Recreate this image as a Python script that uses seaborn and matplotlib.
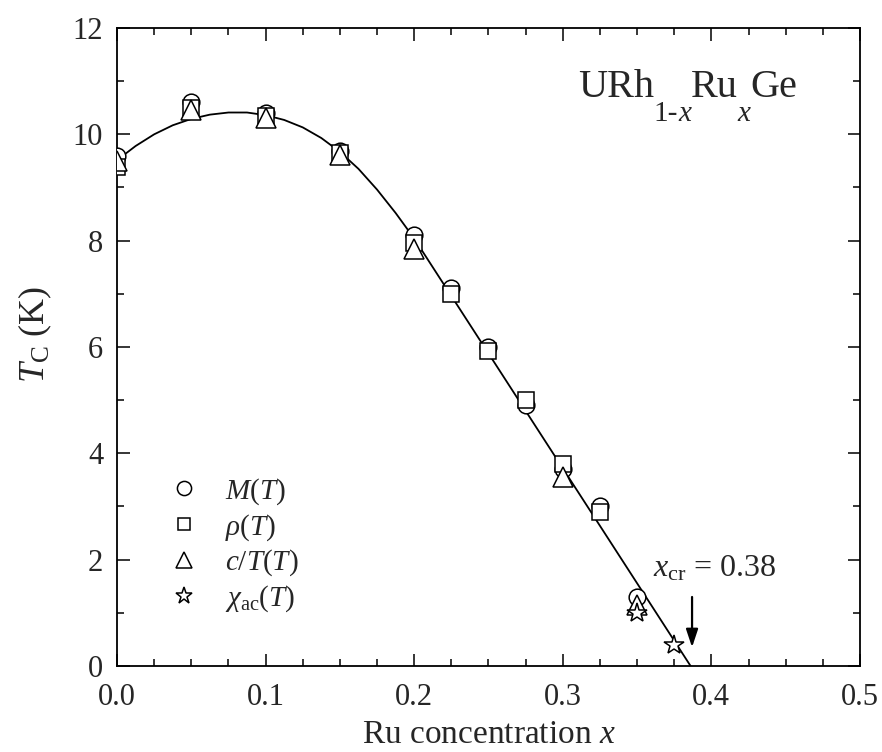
import numpy as np
import pandas as pd
import matplotlib
matplotlib.use("Agg")
import matplotlib.pyplot as plt
import seaborn as sns
from matplotlib.ticker import MultipleLocator

# ---- data ----
x_M = [0.0, 0.05, 0.10, 0.15, 0.20, 0.225, 0.25, 0.275, 0.30, 0.325, 0.35]
Tc_M = [9.6, 10.6, 10.4, 9.68, 8.1, 7.1, 6.0, 4.9, 3.7, 3.0, 1.3]

x_rho = [0.0, 0.05, 0.10, 0.15, 0.20, 0.225, 0.25, 0.275, 0.30, 0.325]
Tc_rho = [9.38, 10.5, 10.35, 9.65, 7.95, 7.0, 5.92, 5.0, 3.8, 2.9]

x_c = [0.0, 0.05, 0.10, 0.15, 0.20, 0.30, 0.35]
Tc_c = [9.5, 10.45, 10.3, 9.62, 7.85, 3.55, 1.15]

x_chi = [0.35, 0.375]
Tc_chi = [1.0, 0.4]

# fit line
x_fit = [0.005, 0.0125, 0.025, 0.0375, 0.05, 0.0625, 0.075, 0.0875, 0.10,
         0.1125, 0.125, 0.1375, 0.15, 0.1625, 0.175, 0.1875, 0.20, 0.386]
Tc_fit = [9.62, 9.78, 10.0, 10.17, 10.29, 10.37, 10.41, 10.41, 10.36,
          10.27, 10.13, 9.93, 9.67, 9.35, 8.96, 8.52, 8.04, 0.0]

labels = ["$M$($T$)", r"$\rho$($T$)", "$c$/$T$($T$)", r"$\chi_{\mathrm{ac}}$($T$)"]
x_cr = 0.38

sns.set_theme(style="ticks")
plt.rcParams["font.family"] = ["Liberation Serif", "DejaVu Serif"]
plt.rcParams["mathtext.fontset"] = "custom"
plt.rcParams["mathtext.rm"] = "Liberation Serif"
plt.rcParams["mathtext.it"] = "Liberation Serif:italic"
plt.rcParams["mathtext.bf"] = "Liberation Serif:bold"

fig = plt.figure(figsize=(8.82, 7.52), dpi=100)
ax = fig.add_axes([0.1327, 0.1144, 0.8423, 0.8484])

fit_df = pd.DataFrame({"x": x_fit, "Tc": Tc_fit})
sns.lineplot(data=fit_df, x="x", y="Tc", ax=ax, color="black", lw=1.3,
             sort=False, zorder=1)

sets = [(x_M, Tc_M, "o", 12), (x_rho, Tc_rho, "s", 11),
        (x_c, Tc_c, "^", 14), (x_chi, Tc_chi, "*", 15)]
for (xs, ys, mk, ms), lab in zip(sets, labels):
    ax.plot(xs, ys, ls="none", marker=mk, ms=ms, mfc="white", mec="black",
            mew=1.1, label=lab, zorder=3)

ax.set_xlim(0, 0.5)
ax.set_ylim(0, 12)
ax.xaxis.set_major_locator(MultipleLocator(0.1))
ax.xaxis.set_minor_locator(MultipleLocator(0.025))
ax.yaxis.set_major_locator(MultipleLocator(2))
ax.yaxis.set_minor_locator(MultipleLocator(1))
ax.xaxis.set_major_formatter(matplotlib.ticker.FormatStrFormatter("%.1f"))
ax.tick_params(which="both", direction="in", top=True, right=True,
               labelsize=22, color="black", width=1.1)
ax.tick_params(which="major", length=9)
ax.tick_params(axis="x", which="major", pad=12)
ax.tick_params(axis="y", which="major", pad=10)
ax.tick_params(which="minor", length=5)
for s in ax.spines.values():
    s.set_linewidth(1.3)
    s.set_color("black")

ax.set_xlabel("Ru concentration $x$", fontsize=24, labelpad=6)
ax.set_ylabel(r"$T_{\mathrm{C}}$ (K)", fontsize=26)
ax.yaxis.set_label_coords(-0.085, 0.52)

# title built from pieces so the subscripts sit low like the original
main_fs, sub_fs = 29, 21
y_main, y_sub = 10.70, 10.25
pieces = [("URh", main_fs, y_main, "normal"), ("1-", sub_fs, y_sub, "normal"),
          ("x", sub_fs, y_sub, "italic"), ("Ru", main_fs, y_main, "normal"),
          ("x", sub_fs, y_sub, "italic"), ("Ge", main_fs, y_main, "normal")]
prev = None
for txt, fs, yy, st in pieces:
    if prev is None:
        prev = ax.text(0.31, yy, txt, fontsize=fs, style=st,
                       ha="left", va="baseline")
    else:
        prev = ax.annotate(txt, xy=(1, yy), xycoords=(prev, "data"),
                           fontsize=fs, style=st, ha="left", va="baseline")

leg = ax.legend(loc="upper left", bbox_to_anchor=(0.055, 0.316), frameon=False,
                fontsize=21, handletextpad=0.9, labelspacing=0.18,
                markerscale=0.85, handlelength=1.0, borderaxespad=0)

ax.annotate("", xy=(0.387, 0.3), xytext=(0.387, 1.35),
            arrowprops=dict(arrowstyle="-|>,head_length=0.9,head_width=0.3",
                            color="black", lw=1.6))
ax.text(0.361, 1.68, r"$x_{\mathrm{cr}}$ = " + f"{x_cr:.2f}", fontsize=23,
        ha="left", va="baseline")

fig.savefig("out.png", dpi=100)
